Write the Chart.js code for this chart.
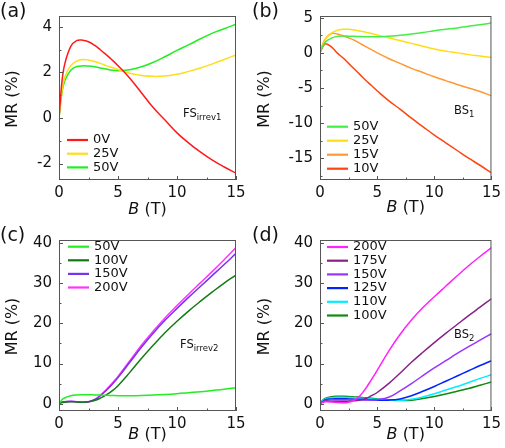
<!DOCTYPE html>
<html>
<head>
<meta charset="utf-8">
<script src="https://cdn.jsdelivr.net/npm/chart.js@4.4.0/dist/chart.umd.min.js"></script>
<style>
  body { margin: 0; background: #fff; width: 505px; height: 448px; position: relative; overflow: hidden; }
  .panel { position: absolute; }
  canvas { display: block; }
</style>
</head>
<body>
<div class="panel" style="left:0;top:0"><canvas id="chartA" width="252" height="224"></canvas></div>
<div class="panel" style="left:252px;top:0"><canvas id="chartB" width="253" height="224"></canvas></div>
<div class="panel" style="left:0;top:224px"><canvas id="chartC" width="252" height="224"></canvas></div>
<div class="panel" style="left:252px;top:224px"><canvas id="chartD" width="253" height="224"></canvas></div>
<script>
// magnetic field B (T), shared by every curve
const B = [0, 0.25, 0.5, 1, 1.5, 2, 2.5, 3, 3.5, 4, 4.5, 5, 6, 7, 8, 9, 10, 11, 12, 13, 14, 15];
const xTicks = [0, 5, 10, 15];
const xMinor = [2.5, 7.5, 12.5];

// (a) FS irrev1
const a0V  = [0, 1.6, 2.4, 3.15, 3.4, 3.42, 3.35, 3.2, 3.0, 2.78, 2.55, 2.3, 1.75, 1.1, 0.45, -0.1, -0.65, -1.1, -1.5, -1.85, -2.15, -2.42];
const a25V = [0, 1.2, 1.8, 2.3, 2.5, 2.57, 2.55, 2.48, 2.4, 2.3, 2.22, 2.13, 1.97, 1.87, 1.83, 1.85, 1.92, 2.05, 2.2, 2.38, 2.57, 2.77];
const a50V = [0, 1.1, 1.65, 2.1, 2.26, 2.29, 2.28, 2.25, 2.2, 2.15, 2.1, 2.08, 2.12, 2.25, 2.45, 2.7, 2.97, 3.22, 3.48, 3.73, 3.92, 4.12];
const aTicks = [-2, 0, 2, 4];
const aMinor = [-1, 1, 3];

// (b) BS1
const b50V = [0, 1.0, 1.6, 2.1, 2.35, 2.4, 2.38, 2.35, 2.32, 2.3, 2.3, 2.3, 2.35, 2.5, 2.7, 2.9, 3.15, 3.35, 3.55, 3.8, 4.0, 4.25];
const b25V = [0, 1.2, 2.0, 2.8, 3.2, 3.35, 3.35, 3.25, 3.1, 2.95, 2.75, 2.55, 2.15, 1.75, 1.35, 0.95, 0.55, 0.25, 0.0, -0.25, -0.45, -0.65];
const b15V = [0, 1.3, 2.1, 2.75, 2.7, 2.45, 2.15, 1.8, 1.35, 0.9, 0.45, 0.0, -0.8, -1.5, -2.2, -2.8, -3.4, -3.95, -4.5, -5.0, -5.5, -6.1];
const b10V = [0, 0.9, 1.3, 0.85, 0.0, -0.7, -1.5, -2.3, -3.1, -3.9, -4.65, -5.4, -6.8, -8.0, -9.3, -10.5, -11.7, -12.8, -13.9, -15.0, -16.0, -17.1];
const bTicks = [-15, -10, -5, 0, 5];
const bMinor = [-17.5, -12.5, -7.5, -2.5, 2.5];

// (c) FS irrev2
const c50V  = [0, 1.0, 1.5, 2.0, 2.2, 2.25, 2.25, 2.2, 2.15, 2.1, 2.05, 2.0, 2.0, 2.05, 2.15, 2.3, 2.5, 2.75, 3.0, 3.3, 3.6, 4.0];
const c100V = [0, 0.3, 0.4, 0.5, 0.45, 0.4, 0.5, 0.8, 1.4, 2.2, 3.2, 4.5, 7.8, 11.3, 14.6, 17.7, 20.5, 23.1, 25.5, 27.8, 30.0, 32.0];
const c150V = [0, 0.4, 0.5, 0.6, 0.5, 0.4, 0.5, 1.0, 2.0, 3.3, 4.8, 6.5, 10.3, 14.1, 17.6, 20.8, 23.7, 26.5, 29.2, 31.9, 34.6, 37.4];
const c200V = [0, 0.4, 0.5, 0.55, 0.45, 0.35, 0.5, 1.0, 2.1, 3.5, 5.1, 6.8, 10.7, 14.6, 18.1, 21.4, 24.4, 27.3, 30.1, 32.9, 35.8, 38.8];
const cdTicks = [0, 10, 20, 30, 40];
const cdMinor = [5, 15, 25, 35];

// (d) BS2
const d200V = [0, 0.4, 0.5, 0.45, 0.3, 0.25, 0.4, 0.9, 2.0, 3.8, 6.0, 8.3, 13.0, 17.2, 20.8, 23.9, 26.6, 29.2, 31.8, 34.3, 36.6, 38.8];
const d175V = [0, 0.4, 0.6, 0.65, 0.6, 0.6, 0.65, 0.75, 0.95, 1.3, 2.0, 2.8, 5.0, 7.6, 10.3, 12.8, 15.2, 17.5, 19.7, 21.9, 24.0, 26.1];
const d150V = [0, 0.5, 0.8, 1.0, 1.0, 1.0, 1.0, 0.95, 0.95, 0.95, 0.95, 1.0, 1.6, 3.2, 5.0, 7.0, 8.9, 10.7, 12.5, 14.2, 15.8, 17.4];
const d125V = [0, 0.6, 1.0, 1.2, 1.25, 1.25, 1.2, 1.15, 1.1, 1.0, 0.95, 0.9, 0.9, 1.2, 2.0, 3.1, 4.3, 5.6, 6.9, 8.2, 9.5, 10.7];
const d110V = [0, 0.8, 1.2, 1.5, 1.6, 1.6, 1.55, 1.5, 1.4, 1.3, 1.2, 1.1, 0.9, 0.8, 1.1, 1.7, 2.5, 3.4, 4.3, 5.3, 6.3, 7.2];
const d100V = [0, 0.9, 1.4, 1.75, 1.85, 1.85, 1.8, 1.7, 1.6, 1.5, 1.35, 1.2, 1.0, 0.85, 0.9, 1.3, 1.8, 2.4, 3.1, 3.8, 4.6, 5.4];

const FONT = "'DejaVu Sans', sans-serif";

function pts(vals) { return vals.map((v, i) => ({ x: B[i], y: v })); }

// frame, inward ticks, axis titles, legend and panel notes
const decor = {
  id: 'decor',
  afterDraw(chart, args, o) {
    const { ctx, chartArea: ca, scales: { x, y } } = chart;
    ctx.save();
    ctx.strokeStyle = '#555';
    ctx.lineWidth = 1;
    ctx.strokeRect(ca.left + 0.5, ca.top + 0.5, ca.width - 1, ca.height - 1);
    ctx.beginPath();
    const xt = (vals, len) => vals.forEach(v => {
      const px = Math.round(x.getPixelForValue(v)) + 0.5;
      ctx.moveTo(px, ca.bottom); ctx.lineTo(px, ca.bottom - len);
    });
    const yt = (vals, len) => vals.forEach(v => {
      const py = Math.round(y.getPixelForValue(v)) + 0.5;
      ctx.moveTo(ca.left, py); ctx.lineTo(ca.left + len, py);
    });
    xt(xTicks, 4); xt(xMinor, 2.5);
    yt(o.yTicks, 4); yt(o.yMinor, 2.5);
    ctx.stroke();

    ctx.fillStyle = '#111';
    ctx.textBaseline = 'middle';
    // x title: italic B + (T)
    const cx = (ca.left + ca.right) / 2;
    ctx.font = `italic 16px ${FONT}`;
    const wB = ctx.measureText('B').width;
    ctx.font = `16px ${FONT}`;
    const wT = ctx.measureText(' (T)').width;
    ctx.textAlign = 'left';
    ctx.font = `italic 16px ${FONT}`;
    ctx.fillText('B', cx - (wB + wT) / 2, o.xTitleY);
    ctx.font = `16px ${FONT}`;
    ctx.fillText(' (T)', cx - (wB + wT) / 2 + wB, o.xTitleY);
    // y title
    ctx.save();
    ctx.translate(13, (ca.top + ca.bottom) / 2 + 1);
    ctx.rotate(-Math.PI / 2);
    ctx.textAlign = 'center';
    ctx.fillText('MR (%)', 0, 0);
    ctx.restore();
    // panel letter
    ctx.font = `19px ${FONT}`;
    ctx.textAlign = 'left';
    ctx.fillText(o.letter, 0, 12);
    // note with subscript
    ctx.font = `11.5px ${FONT}`;
    ctx.textBaseline = 'alphabetic';
    ctx.fillText(o.note, o.noteX, o.noteY);
    const wn = ctx.measureText(o.note).width;
    ctx.font = `8.5px ${FONT}`;
    ctx.fillText(o.sub, o.noteX + wn, o.noteY + 3);
    // legend
    ctx.font = `13px ${FONT}`;
    ctx.textBaseline = 'middle';
    chart.data.datasets.forEach((d, i) => {
      const ly = o.legY + i * o.legGap;
      ctx.strokeStyle = d.borderColor;
      ctx.lineWidth = 2.2;
      ctx.beginPath();
      ctx.moveTo(o.legX, ly); ctx.lineTo(o.legX + 21, ly);
      ctx.stroke();
      ctx.fillStyle = '#111';
      ctx.fillText(d.label, o.legX + 26, ly);
    });
    ctx.restore();
  }
};

function makePanel(id, p) {
  return new Chart(document.getElementById(id), {
    type: 'line',
    data: {
      datasets: p.series.map(s => ({
        label: s.label, data: pts(s.data), borderColor: s.color, borderWidth: 1.5,
        pointRadius: 0, tension: 0.4, fill: false
      }))
    },
    options: {
      responsive: false, animation: false, devicePixelRatio: 1,
      layout: { padding: { left: 0, top: p.top, right: p.right, bottom: 0 } },
      plugins: { legend: { display: false }, tooltip: { enabled: false }, decor: p.decor },
      scales: {
        x: {
          type: 'linear', min: 0, max: 15,
          afterBuildTicks: s => { s.ticks = xTicks.map(v => ({ value: v })); },
          afterFit: s => { s.height = p.xh; },
          grid: { display: false, drawTicks: false }, border: { display: false },
          ticks: { padding: 4, color: '#111', font: { family: FONT, size: 15 } }
        },
        y: {
          type: 'linear', min: p.ymin, max: p.ymax,
          afterBuildTicks: s => { s.ticks = p.decor.yTicks.map(v => ({ value: v })); },
          afterFit: s => { s.width = p.yw; },
          grid: { display: false, drawTicks: false }, border: { display: false },
          ticks: { padding: 7, color: '#111', font: { family: FONT, size: 15 } }
        }
      }
    },
    plugins: [decor]
  });
}

makePanel('chartA', {
  ymin: -2.72, ymax: 4.48, top: 4, right: 16, yw: 59, xh: 44,
  series: [
    { label: '0V', data: a0V, color: '#ff1a1a' },
    { label: '25V', data: a25V, color: '#ffdd1a' },
    { label: '50V', data: a50V, color: '#22ee22' }
  ],
  decor: { yTicks: aTicks, yMinor: aMinor, letter: '(a)', note: 'FS', sub: 'irrev1', noteX: 183, noteY: 117,
    xTitleY: 210, legX: 67, legY: 140, legGap: 13.7 }
});

makePanel('chartB', {
  ymin: -18.1, ymax: 5.25, top: 5, right: 10, yw: 68, xh: 44,
  series: [
    { label: '50V', data: b50V, color: '#44ee44' },
    { label: '25V', data: b25V, color: '#ffdd11' },
    { label: '15V', data: b15V, color: '#ff9933' },
    { label: '10V', data: b10V, color: '#ff4411' }
  ],
  decor: { yTicks: bTicks, yMinor: bMinor, letter: '(b)', note: 'BS', sub: '1', noteX: 202, noteY: 114,
    xTitleY: 208, legX: 75, legY: 126.7, legGap: 14 }
});

makePanel('chartC', {
  ymin: -1.8, ymax: 40.7, top: 11, right: 16, yw: 59, xh: 37,
  series: [
    { label: '50V', data: c50V, color: '#22ee22' },
    { label: '100V', data: c100V, color: '#157a15' },
    { label: '150V', data: c150V, color: '#7733ee' },
    { label: '200V', data: c200V, color: '#ff33ff' }
  ],
  decor: { yTicks: cdTicks, yMinor: cdMinor, letter: '(c)', note: 'FS', sub: 'irrev2', noteX: 180, noteY: 124,
    xTitleY: 211, legX: 68, legY: 22.7, legGap: 13.6 }
});

makePanel('chartD', {
  ymin: -1.8, ymax: 40.7, top: 11, right: 10, yw: 68, xh: 37,
  series: [
    { label: '200V', data: d200V, color: '#ff22ff' },
    { label: '175V', data: d175V, color: '#882288' },
    { label: '150V', data: d150V, color: '#9933ff' },
    { label: '125V', data: d125V, color: '#0022ff' },
    { label: '110V', data: d110V, color: '#00eeff' },
    { label: '100V', data: d100V, color: '#118811' }
  ],
  decor: { yTicks: cdTicks, yMinor: cdMinor, letter: '(d)', note: 'BS', sub: '2', noteX: 202, noteY: 114,
    xTitleY: 211, legX: 75, legY: 23, legGap: 13.7 }
});
</script>
</body>
</html>
